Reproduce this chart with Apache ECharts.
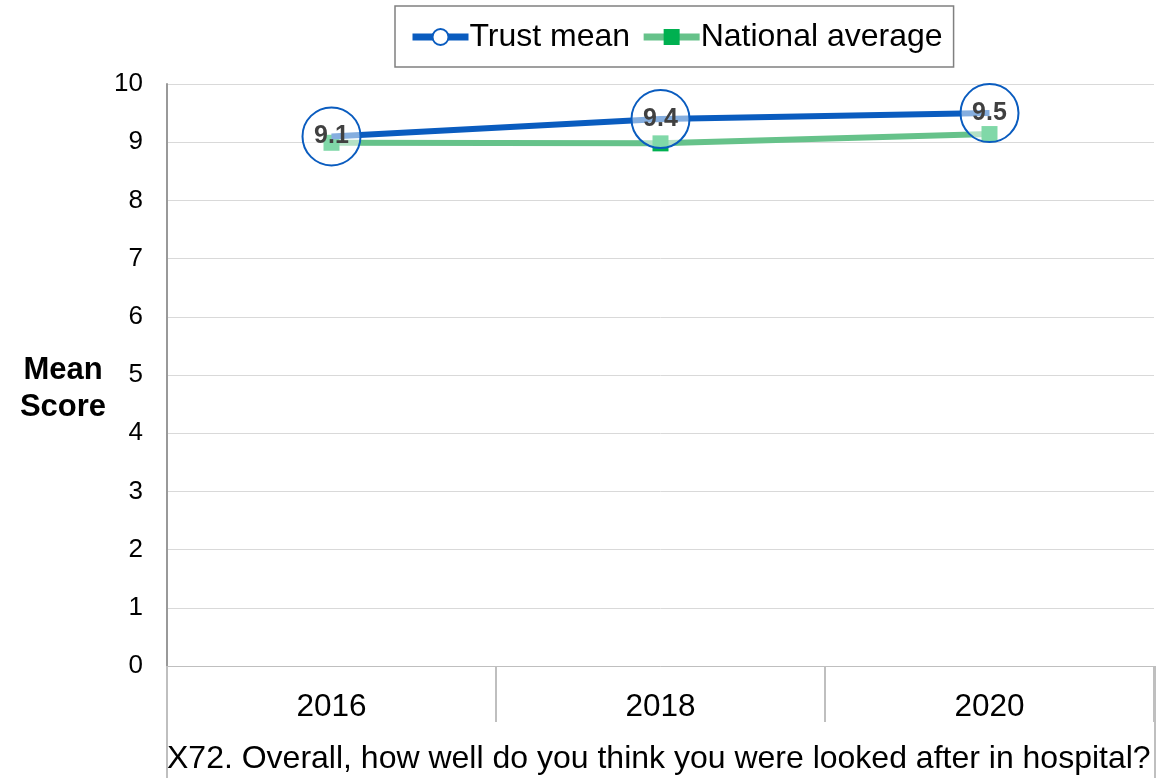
<!DOCTYPE html>
<html>
<head>
<meta charset="utf-8">
<script src="https://cdn.jsdelivr.net/npm/echarts@6/dist/echarts.min.js"></script>
<style>html,body{margin:0;padding:0;background:#fff;}#c{width:1157px;height:778px;}</style>
</head>
<body>
<div id="c"></div>
<script>
const categories = ['2016', '2018', '2020'];
const trustMean = [9.1, 9.4, 9.5];
const nationalAverage = [8.99, 8.98, 9.14];
const yTicks = [0, 1, 2, 3, 4, 5, 6, 7, 8, 9, 10];
const questionText = 'X72. Overall, how well do you think you were looked after in hospital?';

const chart = echarts.init(document.getElementById('c'));
const FONT = '"Liberation Sans", Arial, sans-serif';
chart.setOption({
  animation: false,
  textStyle: { fontFamily: FONT },
  title: {
    text: questionText,
    left: 162, top: 738,
    textStyle: { fontSize: 32, fontWeight: 'normal', color: '#000', fontFamily: FONT }
  },
  legend: {
    top: 6, left: 395,
    padding: [15, 11, 14, 14],
    borderColor: '#808080', borderWidth: 1.5,
    itemWidth: 56, itemHeight: 20, itemGap: 10,
    textStyle: { fontSize: 32, color: '#000', padding: [0, 0, 0, -4] },
    data: [
      { name: 'Trust mean', lineStyle: { width: 7, color: '#0a5cbf' }, itemStyle: { color: '#fff', borderColor: '#0a5cbf', borderWidth: 2 } },
      { name: 'National average', lineStyle: { width: 7, color: '#66c28a' }, itemStyle: { color: '#00b050' } }
    ]
  },
  grid: { left: 167, right: 3, top: 84, bottom: 112 },
  xAxis: {
    type: 'category',
    data: categories,
    boundaryGap: true,
    axisLine: { lineStyle: { color: '#bfbfbf', width: 1 } },
    axisTick: { show: true, length: 56, lineStyle: { color: '#bfbfbf', width: 2 } },
    axisLabel: { fontSize: 31.5, color: '#000', margin: 25 }
  },
  yAxis: {
    type: 'value',
    min: 0, max: 10, interval: 1,
    name: '{s|}\n{b|Mean}\n{b|Score}',
    nameLocation: 'middle',
    nameRotate: 0,
    nameGap: 104,
    nameTextStyle: {
      align: 'center',
      rich: {
        s: { fontSize: 10, lineHeight: 28 },
        b: { fontSize: 31, fontWeight: 'bold', color: '#000', lineHeight: 37, align: 'center', fontFamily: FONT }
      }
    },
    axisLine: { show: true, lineStyle: { color: '#999', width: 2 } },
    axisTick: { show: false },
    splitLine: { lineStyle: { color: '#d9d9d9', width: 1 } },
    axisLabel: { fontSize: 26, color: '#000', margin: 24, formatter: v => yTicks.includes(v) ? String(v) : '' }
  },
  graphic: [
    { type: 'line', shape: { x1: 167, y1: 666, x2: 167, y2: 778 }, style: { stroke: '#bfbfbf', lineWidth: 2 } },
    { type: 'line', shape: { x1: 1155, y1: 666, x2: 1155, y2: 778 }, style: { stroke: '#bfbfbf', lineWidth: 2 } }
  ],
  series: [
    {
      name: 'National average',
      type: 'line',
      data: nationalAverage,
      z: 2,
      symbol: 'rect',
      symbolSize: 16,
      lineStyle: { color: '#66c28a', width: 6 },
      itemStyle: { color: '#00b050', borderWidth: 0 }
    },
    {
      name: 'Trust mean',
      type: 'line',
      data: trustMean,
      z: 3,
      symbol: 'circle',
      symbolSize: 58,
      showAllSymbol: true,
      lineStyle: { color: '#0a5cbf', width: 6 },
      itemStyle: { color: 'rgba(255,255,255,0.5)', borderColor: '#0a5cbf', borderWidth: 2 },
      label: {
        show: true, position: 'inside',
        fontSize: 25, fontWeight: 'bold', color: '#404040',
        formatter: p => p.value.toFixed(1)
      }
    }
  ]
});
</script>
</body>
</html>
